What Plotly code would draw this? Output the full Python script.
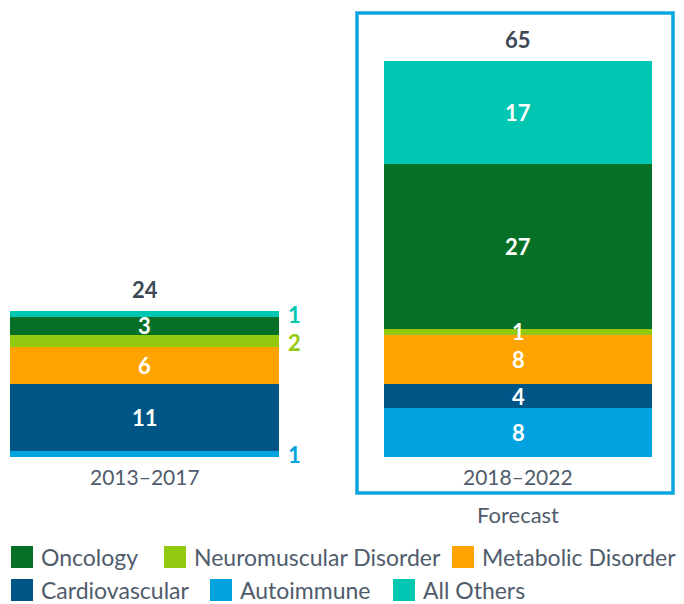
import plotly.graph_objects as go

# ---------------- data ----------------
categories = ["2013–2017", "2018–2022"]
autoimmune = [1, 8]
cardiovascular = [11, 4]
metabolic = [6, 8]
neuromuscular = [2, 1]
oncology = [3, 27]
all_others = [1, 17]

# stacking order, bottom to top
series = [
    ("Autoimmune", autoimmune, "#00a3e0"),
    ("Cardiovascular", cardiovascular, "#005587"),
    ("Metabolic Disorder", metabolic, "#ffa300"),
    ("Neuromuscular Disorder", neuromuscular, "#93c90e"),
    ("Oncology", oncology, "#067126"),
    ("All Others", all_others, "#00c7b1"),
]
# legend layout (two rows)
legend_rows = [
    ["Oncology", "Neuromuscular Disorder", "Metabolic Disorder"],
    ["Cardiovascular", "Autoimmune", "All Others"],
]
# page pixel positions (the page body adds an 8px margin and clips on the right)
OFF = 8
legend_x_px = [[11, 164, 452], [11, 210, 393]]
legend_y_px = [557, 590]
# labels drawn outside the bar (category index, series name)
outside_labels = {(0, "Autoimmune"), (0, "Neuromuscular Disorder"), (0, "All Others")}

FONT = "Lato, 'Open Sans', sans-serif"
TEXT = "#505c6c"
TOTAL = "#3d4756"
W, H = 684 - 2 * OFF, 604 - OFF
PLOT_H = 457 - OFF
BAR_W = 0.72


def px_x(px):
    return (px - OFF) / W


def px_y(py):
    return (PLOT_H - (py - OFF)) / PLOT_H


fig = go.Figure()
for name, vals, col in series:
    fig.add_trace(go.Bar(
        x=categories, y=vals, name=name, marker=dict(color=col, line=dict(width=0)),
        width=BAR_W, showlegend=False, hoverinfo="x+y+name",
    ))

annotations = []
color_of = {n: c for n, _, c in series}
for i, cat in enumerate(categories):
    base = 0
    for name, vals, col in series:
        v = vals[i]
        mid = base + v / 2
        if (i, name) in outside_labels:
            annotations.append(dict(
                x=i + BAR_W / 2, y=mid, xref="x", yref="y", text=str(v),
                showarrow=False, xanchor="left", yanchor="middle", xshift=7, yshift=-1,
                font=dict(family=FONT, size=22, color=col, weight="bold"),
            ))
        else:
            annotations.append(dict(
                x=i, y=mid, xref="x", yref="y", text=str(v), showarrow=False,
                xanchor="center", yanchor="middle",
                font=dict(family=FONT, size=22, color="white", weight="bold"),
            ))
        base += v
    annotations.append(dict(
        x=i, y=base, xref="x", yref="y", text=str(base), showarrow=False,
        xanchor="center", yanchor="bottom", yshift=6,
        font=dict(family=FONT, size=22, color=TOTAL, weight="bold"),
    ))
    annotations.append(dict(
        x=i, y=0, xref="x", yref="paper", text=cat, showarrow=False,
        xanchor="center", yanchor="top", yshift=-5,
        font=dict(family=FONT, size=21, color=TEXT),
    ))

# Forecast label
annotations.append(dict(
    x=1, y=px_y(515), xref="x", yref="paper", text="Forecast",
    showarrow=False, xanchor="center", yanchor="middle",
    font=dict(family=FONT, size=22, color=TEXT),
))

shapes = [dict(
    type="rect", xref="paper", yref="paper",
    x0=px_x(357), x1=px_x(673), y0=px_y(493), y1=px_y(13),
    line=dict(color="#0aa6e0", width=3.5), fillcolor="rgba(0,0,0,0)", layer="below",
)]

SQ = 22
for r, row in enumerate(legend_rows):
    for j, name in enumerate(row):
        x0 = legend_x_px[r][j]
        yc = legend_y_px[r]
        shapes.append(dict(
            type="rect", xref="paper", yref="paper",
            x0=px_x(x0), x1=px_x(x0 + SQ),
            y0=px_y(yc + SQ / 2), y1=px_y(yc - SQ / 2),
            line=dict(width=0), fillcolor=color_of[name],
        ))
        annotations.append(dict(
            x=px_x(x0 + SQ + 7), y=px_y(yc), xref="paper", yref="paper",
            text=name, showarrow=False, xanchor="left", yanchor="middle", borderpad=0,
            font=dict(family=FONT, size=23, color=TEXT),
        ))

px_per_cat = 373.5
center0 = 144.5 - OFF
x_left = -center0 / px_per_cat
x_right = (W - center0) / px_per_cat
y_top = PLOT_H / 6.1

fig.update_layout(
    width=W, height=H, barmode="stack",
    margin=dict(l=0, r=0, t=0, b=H - PLOT_H, pad=0),
    paper_bgcolor="white", plot_bgcolor="white",
    xaxis=dict(range=[x_left, x_right], showticklabels=False, showgrid=False,
               zeroline=False, showline=False, fixedrange=True),
    yaxis=dict(range=[0, y_top], visible=False, showgrid=False, fixedrange=True),
    annotations=annotations, shapes=shapes, showlegend=False,
    font=dict(family=FONT, color=TEXT),
)

fig.write_html("out.html")
